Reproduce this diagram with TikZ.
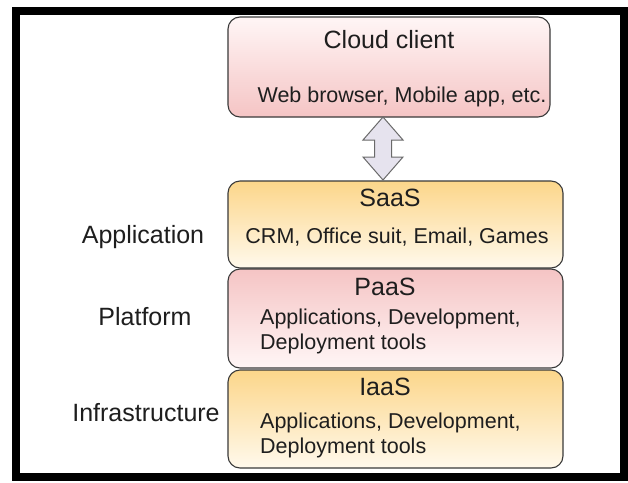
\documentclass[tikz,border=0pt]{standalone}
\usepackage{fontspec}
\setmainfont{Liberation Sans}
\usepackage{tikz}
\usetikzlibrary{calc}
\definecolor{stackInk}{HTML}{3A3A3A}
\definecolor{stackText}{HTML}{1E1E1E}
\definecolor{stackPink}{HTML}{F5C4C4}
\definecolor{stackPinkLo}{HTML}{FFF6F6}
\definecolor{stackAmber}{HTML}{FCD68A}
\definecolor{stackAmberLo}{HTML}{FFF9EC}
\definecolor{stackLilac}{HTML}{E6E3EE}
\definecolor{stackGray}{HTML}{6A6A6A}

\begin{document}
\begin{tikzpicture}[
  x=1pt, y=-1pt,
  layer/.style={draw=stackInk, line width=1.1pt, rounded corners=12pt,
                inner sep=0pt},
  pinkbox/.style={layer, top color=stackPink, bottom color=stackPinkLo},
  amberbox/.style={layer, top color=stackAmber, bottom color=stackAmberLo},
  title/.style={font=\fontsize{25}{28}\selectfont, text=stackText, inner sep=0pt},
  body/.style={font=\fontsize{21.5}{25}\selectfont, text=stackText, inner sep=0pt,
               align=left},
  side/.style={font=\fontsize{25}{28}\selectfont, text=stackText, inner sep=0pt},
]
\useasboundingbox (0,0) rectangle (628,482);
\fill[white] (0,0) rectangle (628,482);

% ======================= client =========================================
\node[layer, top color=stackPinkLo, bottom color=stackPink,
      minimum width=322pt, minimum height=100pt] (client) at (389,67) {};
\node[title] (clientT) at (389,40) {Cloud client};
\node[body] (clientB) at (402,97) {Web browser, Mobile app, etc.};

% ======================= service layers =================================
\node[amberbox, minimum width=335pt, minimum height=87pt] (saas) at (395.5,224.5) {};
\node[pinkbox, minimum width=335pt, minimum height=99pt] (paas) at (395.5,318.5) {};
\node[amberbox, minimum width=335pt, minimum height=98pt] (iaas) at (395.5,419) {};

\node[title] (saasT) at (390,198) {SaaS};
\node[body] (saasB) at (397,237) {CRM, Office suit, Email, Games};
\node[title] (paasT) at (385,287) {PaaS};
\node[body, anchor=west] (paasB) at (260,331.5)
  {Applications, Development,\\Deployment tools};
\node[title] (iaasT) at (385,387) {IaaS};
\node[body, anchor=west] (iaasB) at (260,435.5)
  {Applications, Development,\\Deployment tools};

% labels on the left
\node[side] (app) at (143,237) {Application};
\node[side] (plat) at (145,317) {Platform};
\node[side] (infra) at (146,413) {Infrastructure};

% ======================= the two-way arrow ==============================
\coordinate (tipA) at (383,117);
\coordinate (tipB) at (383,180);
\draw[stackGray, fill=stackLilac, line width=1pt, line join=miter]
  (tipA) -- ($(tipA)+(20,23)$) -- ($(tipA)+(8.5,23)$)
  -- ($(tipB)+(8.5,-23)$) -- ($(tipB)+(20,-23)$) -- (tipB)
  -- ($(tipB)+(-20,-23)$) -- ($(tipB)+(-8.5,-23)$)
  -- ($(tipA)+(-8.5,23)$) -- ($(tipA)+(-20,23)$) -- cycle;

% frame
\draw[black, line width=8.5pt] (16,11) rectangle (624,477);
\end{tikzpicture}
\end{document}
